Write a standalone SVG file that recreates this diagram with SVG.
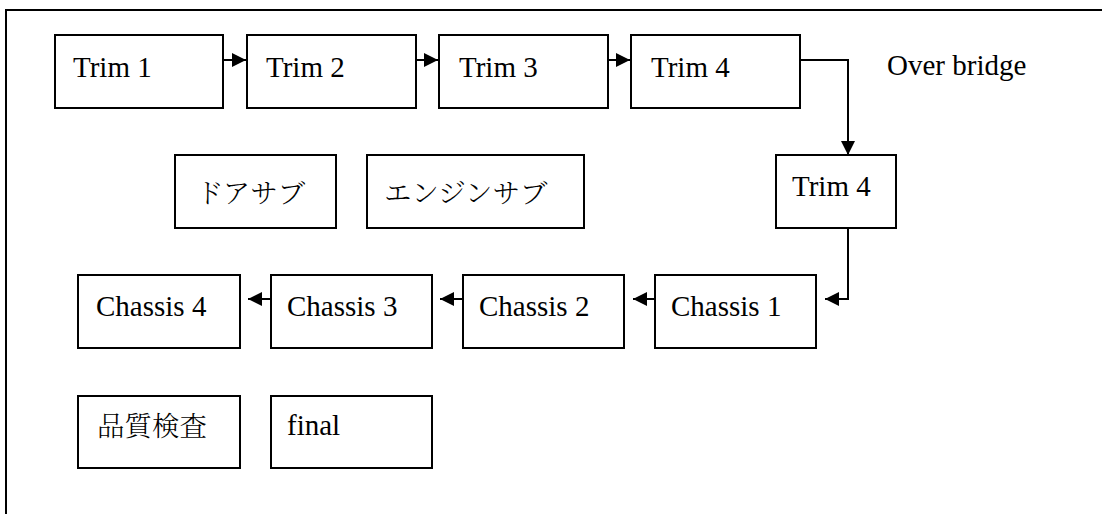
<svg xmlns="http://www.w3.org/2000/svg" width="1102" height="514" viewBox="0 0 1102 514">
<style>
.box{fill:#fff;stroke:#000;stroke-width:2}
.t{font-family:"Liberation Serif","Times New Roman","Noto Sans CJK JP",serif;font-size:29px;fill:#000}
.j{font-family:"Noto Serif CJK JP","Liberation Serif","Noto Sans CJK JP",serif;font-size:27.5px;font-weight:300;fill:#000}
.c{fill:none;stroke:#000;stroke-width:2}
</style>
<defs>
<marker id="ah" viewBox="0 0 14 14" refX="14" refY="7" markerWidth="14" markerHeight="14" markerUnits="userSpaceOnUse" orient="auto">
<path d="M0,0 L14,7 L0,14 Z" fill="#000"/>
</marker>
</defs>
<rect width="1102" height="514" fill="#fff"/>
<path d="M6,514 V10 H1102" fill="none" stroke="#000" stroke-width="2"/>
<g id="trim1"><rect class="box" x="55" y="35" width="168" height="73"/><text class="t" x="73" y="77">Trim 1</text></g>
<g id="trim2"><rect class="box" x="247" y="35" width="169" height="73"/><text class="t" x="266" y="77">Trim 2</text></g>
<g id="trim3"><rect class="box" x="439" y="35" width="169" height="73"/><text class="t" x="459" y="77">Trim 3</text></g>
<g id="trim4"><rect class="box" x="631" y="35" width="169" height="73"/><text class="t" x="651" y="77">Trim 4</text></g>
<g id="overbridge"><text class="t" x="887" y="75">Over bridge</text></g>
<g id="trim4b"><rect class="box" x="776" y="155" width="120" height="73"/><text class="t" x="792" y="196">Trim 4</text></g>
<g id="doorsub"><rect class="box" x="175" y="155" width="161" height="73"/><text class="j" x="196" y="203">ドアサブ</text></g>
<g id="enginesub"><rect class="box" x="367" y="155" width="217" height="73"/><text class="j" x="384" y="203">エンジンサブ</text></g>
<g id="chassis4"><rect class="box" x="78" y="275" width="162" height="73"/><text class="t" x="96" y="316">Chassis 4</text></g>
<g id="chassis3"><rect class="box" x="271" y="275" width="161" height="73"/><text class="t" x="287" y="316">Chassis 3</text></g>
<g id="chassis2"><rect class="box" x="463" y="275" width="161" height="73"/><text class="t" x="479" y="316">Chassis 2</text></g>
<g id="chassis1"><rect class="box" x="655" y="275" width="161" height="73"/><text class="t" x="671" y="316">Chassis 1</text></g>
<g id="quality"><rect class="box" x="78" y="396" width="162" height="72"/><text class="j" x="97" y="436">品質検査</text></g>
<g id="final"><rect class="box" x="271" y="396" width="161" height="72"/><text class="t" x="287" y="435">final</text></g>
<g id="connectors">
<path class="c" d="M223,60 H246" marker-end="url(#ah)"/>
<path class="c" d="M416,60 H438" marker-end="url(#ah)"/>
<path class="c" d="M608,60 H630" marker-end="url(#ah)"/>
<path class="c" d="M800,60 H848 V155" marker-end="url(#ah)"/>
<path class="c" d="M848,228 V299 H825" marker-end="url(#ah)"/>
<path class="c" d="M655,299 H633" marker-end="url(#ah)"/>
<path class="c" d="M463,299 H440" marker-end="url(#ah)"/>
<path class="c" d="M271,299 H248" marker-end="url(#ah)"/>
</g>
</svg>
